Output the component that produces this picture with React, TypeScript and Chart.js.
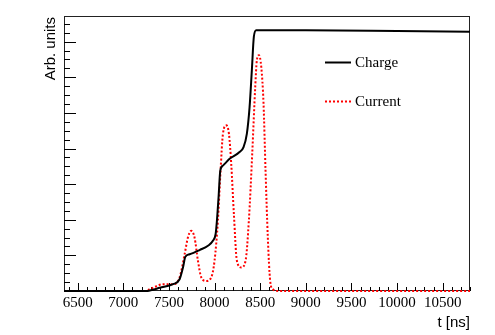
import React, { useEffect, useRef } from "react";
import { Chart, registerables } from "chart.js";

Chart.register(...registerables);

// ---- data (time in ns, amplitude in arbitrary units) ----
const chargeTimes = [6350, 7250, 7300, 7400, 7545, 7617, 7654, 7680, 7727, 7836, 7928, 7982, 8012, 8026, 8044, 8063, 8092, 8165, 8274, 8318, 8354, 8384, 8409, 8431, 8457, 9000, 10000, 10800];
const chargeValues = [0, 0, 0.02, 0.09, 0.19, 0.33, 0.66, 0.96, 1.03, 1.15, 1.27, 1.41, 1.6, 1.97, 2.63, 3.38, 3.52, 3.71, 3.9, 4.04, 4.41, 5.16, 6.2, 7.14, 7.32, 7.32, 7.3, 7.28];

const currentTimes = [6350, 7250, 7289, 7350, 7434, 7544, 7617, 7672, 7708, 7745, 7781, 7818, 7855, 7909, 7964, 8000, 8037, 8066, 8092, 8129, 8158, 8183, 8212, 8245, 8293, 8340, 8376, 8413, 8446, 8464, 8486, 8512, 8537, 8559, 8584, 8610, 8639, 8700, 10800];
const currentValues = [0, 0, 0.05, 0.12, 0.19, 0.19, 0.38, 1.03, 1.5, 1.69, 1.5, 0.85, 0.38, 0.28, 0.38, 0.85, 1.97, 3.38, 4.41, 4.65, 4.41, 3.57, 2.16, 0.85, 0.66, 0.85, 1.97, 3.85, 5.73, 6.48, 6.62, 6.29, 5.26, 3.38, 1.5, 0.28, 0.05, 0, 0];

const seriesLabels = ["Charge", "Current"];
const xTickLabels = [6500, 7000, 7500, 8000, 8500, 9000, 9500, 10000, 10500];
const xMin = 6350;
const xMax = 10800;
const yMin = 0;
const yMax = 7.72;
const xMajorStep = 500;
const xMinorStep = 100;
const yMajorStep = 1;
const yMinorStep = 0.25;
const xTitle = "t [ns]";
const yTitle = "Arb. units";

const W = 495;
const H = 335;

const rootPlugin = {
  id: "rootStyle",
  beforeDraw(chart: any) {
    const ctx = chart.ctx;
    ctx.save();
    ctx.fillStyle = "#ffffff";
    ctx.fillRect(0, 0, chart.width, chart.height);
    ctx.restore();
  },
  beforeDatasetsDraw(chart: any) {
    const ctx = chart.ctx;
    const a = chart.chartArea;
    const xs = chart.scales.x;
    const ys = chart.scales.y;
    ctx.save();
    // frame
    ctx.strokeStyle = "#222222";
    ctx.lineWidth = 1;
    ctx.strokeRect(Math.round(a.left) + 0.5, Math.round(a.top) + 0.5, Math.round(a.right - a.left) - 1, Math.round(a.bottom - a.top) - 1);

    ctx.strokeStyle = "#000000";
    ctx.beginPath();
    // x ticks
    const nx0 = Math.ceil(xMin / xMinorStep);
    const nx1 = Math.floor(xMax / xMinorStep);
    for (let i = nx0; i <= nx1; i++) {
      const v = i * xMinorStep;
      const px = Math.round(xs.getPixelForValue(v)) + 0.5;
      const major = Math.abs(v / xMajorStep - Math.round(v / xMajorStep)) < 1e-6;
      const len = major ? 8 : 4;
      ctx.moveTo(px, a.bottom);
      ctx.lineTo(px, a.bottom - len);
    }
    // y ticks
    const ny1 = Math.floor(yMax / yMinorStep);
    for (let i = 1; i <= ny1; i++) {
      const v = i * yMinorStep;
      const py = Math.round(ys.getPixelForValue(v)) + 0.5;
      const major = Math.abs(v / yMajorStep - Math.round(v / yMajorStep)) < 1e-6;
      const len = major ? 12 : 6;
      ctx.moveTo(a.left, py);
      ctx.lineTo(a.left + len, py);
    }
    ctx.stroke();
    ctx.restore();
  },
  afterDraw(chart: any) {
    const ctx = chart.ctx;
    const a = chart.chartArea;
    ctx.save();
    // axis titles
    ctx.fillStyle = "#000000";
    ctx.font = "15px 'Liberation Sans', Arial, sans-serif";
    ctx.textAlign = "right";
    ctx.textBaseline = "alphabetic";
    ctx.fillText(xTitle, a.right, 327);
    ctx.save();
    ctx.translate(55, a.top + 1);
    ctx.rotate(-Math.PI / 2);
    ctx.textAlign = "right";
    ctx.fillText(yTitle, 0, 0);
    ctx.restore();

    // legend
    const ds = chart.data.datasets;
    const rows = [62, 101];
    ctx.font = "15px 'Liberation Serif', 'Times New Roman', serif";
    ctx.textAlign = "left";
    ctx.textBaseline = "middle";
    ds.forEach((d: any, i: number) => {
      const y = rows[i] + 0.5;
      ctx.beginPath();
      ctx.strokeStyle = d.borderColor;
      ctx.lineWidth = d.borderWidth;
      ctx.setLineDash(d.borderDash || []);
      ctx.moveTo(325, y);
      ctx.lineTo(351, y);
      ctx.stroke();
      ctx.setLineDash([]);
      ctx.fillStyle = "#000000";
      ctx.fillText(d.label, 355, rows[i] + 1);
    });
    ctx.restore();
  },
};

export default function App() {
  const ref = useRef<HTMLCanvasElement | null>(null);
  useEffect(() => {
    if (!ref.current) return;
    const chart = new Chart(ref.current, {
      type: "line",
      data: {
        datasets: [
          {
            label: seriesLabels[0],
            data: chargeTimes.map((t, i) => ({ x: t, y: chargeValues[i] })),
            borderColor: "#000000",
            borderWidth: 2,
            pointRadius: 0,
            fill: false,
            clip: false,
            cubicInterpolationMode: "monotone",
          },
          {
            label: seriesLabels[1],
            data: currentTimes.map((t, i) => ({ x: t, y: currentValues[i] })),
            borderColor: "#ff0000",
            borderWidth: 2,
            borderDash: [2, 2],
            pointRadius: 0,
            fill: false,
            clip: false,
            cubicInterpolationMode: "monotone",
          },
        ],
      },
      options: {
        animation: false,
        responsive: false,
        devicePixelRatio: 1,
        layout: { padding: { left: 0, right: 25, top: 16, bottom: 0 } },
        plugins: { legend: { display: false }, tooltip: { enabled: false } },
        scales: {
          x: {
            type: "linear",
            min: xMin,
            max: xMax,
            grid: { display: false, drawTicks: false },
            border: { display: false },
            afterBuildTicks: (s: any) => {
              s.ticks = xTickLabels.map((v) => ({ value: v }));
            },
            ticks: {
              autoSkip: false,
              maxRotation: 0,
              minRotation: 0,
              padding: 3,
              color: "#000000",
              font: { family: "'Liberation Serif', 'Times New Roman', serif", size: 15 },
              callback: (v: any) => String(v),
            },
            afterFit: (s: any) => {
              s.height = H - 291;
            },
          },
          y: {
            type: "linear",
            min: yMin,
            max: yMax,
            grid: { display: false, drawTicks: false },
            border: { display: false },
            ticks: { display: false, stepSize: yMajorStep },
            afterFit: (s: any) => {
              s.width = 64;
            },
          },
        },
      } as any,
      plugins: [rootPlugin],
    });
    return () => chart.destroy();
  }, []);
  return (
    <div style={{ position: "fixed", left: 0, top: 0, width: W, height: H, background: "#fff" }}>
      <canvas ref={ref} width={W} height={H} style={{ display: "block" }} />
    </div>
  );
}
